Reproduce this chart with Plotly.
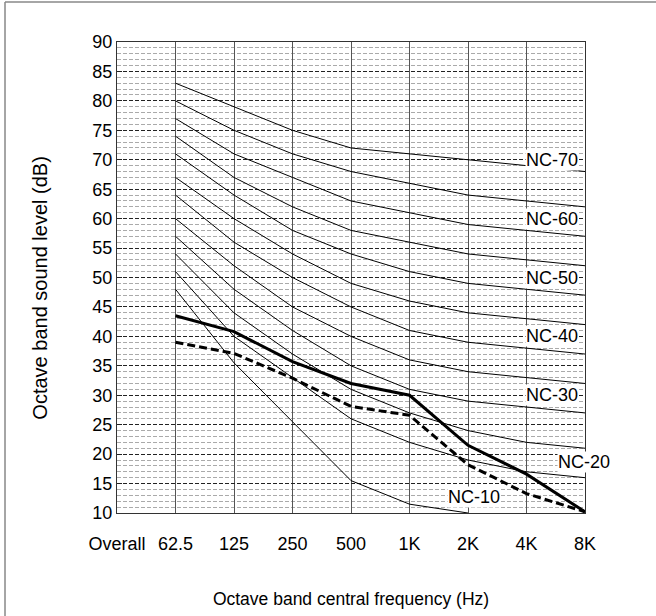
import plotly.graph_objects as go

# octave bands (x categories)
bands = ["Overall", "62.5", "125", "250", "500", "1K", "2K", "4K", "8K"]
nc_bands = bands[1:]

# NC curves, values at 62.5 ... 8K (dB)
nc10 = [48, 35.5, 25.5, 15.5, 11.5, 10, None, None]
nc20 = [51, 40, 33, 26, 22, 19, 17, 16]
nc25 = [54, 44, 37, 31, 27, 24, 22, 21]
nc30 = [57, 48, 41, 35, 31, 29, 28, 27]
nc35 = [60, 52, 45, 40, 36, 34, 33, 32]
nc40 = [64, 56, 50, 45, 41, 39, 38, 37]
nc45 = [67, 60, 54, 49, 46, 44, 43, 42]
nc50 = [71, 64, 58, 54, 51, 49, 48, 47]
nc55 = [74, 67, 62, 58, 56, 54, 53, 52]
nc60 = [77, 71, 67, 63, 61, 59, 58, 57]
nc65 = [80, 75, 71, 68, 66, 64, 63, 62]
nc70 = [83, 79, 75, 72, 71, 70, 69, 68]

# measured spectra
level_solid = [43.5, 40.8, 35.7, 32, 30, 21.5, 16.6, 10.2]
level_dashed = [39, 37.1, 32.9, 28.1, 26.6, 18.2, 13.3, 10.2]

nc_labels = ["NC-70", "NC-60", "NC-50", "NC-40", "NC-30", "NC-20", "NC-10"]

font = "Liberation Sans, Arial, sans-serif"

fig = go.Figure()

for curve in [nc10, nc20, nc25, nc30, nc35, nc40, nc45, nc50, nc55, nc60, nc65, nc70]:
    fig.add_trace(go.Scatter(x=nc_bands, y=curve, mode="lines",
                             line=dict(color="black", width=1),
                             showlegend=False, hoverinfo="skip"))

fig.add_trace(go.Scatter(x=nc_bands, y=level_dashed, mode="lines",
                         line=dict(color="black", width=3, dash="8px,4px"),
                         showlegend=False))
fig.add_trace(go.Scatter(x=nc_bands, y=level_solid, mode="lines",
                         line=dict(color="black", width=3),
                         showlegend=False))

# label positions (category index, dB)
label_pos = [(7.43, 70), (7.43, 60), (7.43, 50), (7.43, 40), (7.43, 30), (7.98, 18.6), (6.1, 12.8)]
for text, (lx, ly) in zip(nc_labels, label_pos):
    fig.add_annotation(x=lx, y=ly, text=text, showarrow=False,
                       font=dict(size=18, color="black", family=font),
                       bgcolor="white", borderpad=0)

# y axis title, sits a little below the plot centre
fig.add_annotation(text="Octave band sound level (dB)", textangle=-90,
                   xref="paper", yref="paper", x=-0.165, y=0.478,
                   xanchor="center", yanchor="middle",
                   showarrow=False, font=dict(size=20, family=font, color="black"))

# outer frame (left and top only)
fig.add_shape(type="line", xref="paper", yref="paper", x0=-0.2393, x1=-0.2393,
              y0=-0.22, y1=1.085, line=dict(color="#888", width=1.5))
fig.add_shape(type="line", xref="paper", yref="paper", x0=-0.2393, x1=1.16,
              y0=1.085, y1=1.085, line=dict(color="#888", width=1.5))

fig.update_xaxes(
    type="category", categoryorder="array", categoryarray=bands,
    range=[0, 8], showgrid=True, gridcolor="#555", gridwidth=1,
    showline=True, mirror=True, linecolor="#333", linewidth=1,
    ticks="", tickfont=dict(size=18, family=font, color="black"),
    ticklabelstandoff=14, automargin=False,
    title=dict(text="Octave band central frequency (Hz)", standoff=40,
               font=dict(size=17.5, family=font, color="black")),
)
fig.update_yaxes(
    range=[10, 90], tick0=10, dtick=5,
    showgrid=True, gridcolor="#222", gridwidth=0.8, griddash="4px,2px",
    minor=dict(dtick=1, showgrid=True, gridcolor="#aaa", gridwidth=1, griddash="4px,2px"),
    showline=True, mirror=True, linecolor="#333", linewidth=1,
    ticks="inside", ticklen=5, tickcolor="#222",
    tickfont=dict(size=18, family=font, color="black"),
    zeroline=False, automargin=False,
)

fig.update_layout(
    width=656, height=616,
    margin=dict(l=117, r=71, t=42, b=103),
    plot_bgcolor="white", paper_bgcolor="white",
    yaxis2=dict(overlaying="y", anchor="x", range=[10, 90], tick0=10, dtick=10,
                showgrid=True, gridcolor="#555", gridwidth=1.5,
                showticklabels=False, ticks="", zeroline=False, showline=False),
)

fig.write_html("out.html", config={"displayModeBar": False},
               post_script="document.body.style.margin='0';")
